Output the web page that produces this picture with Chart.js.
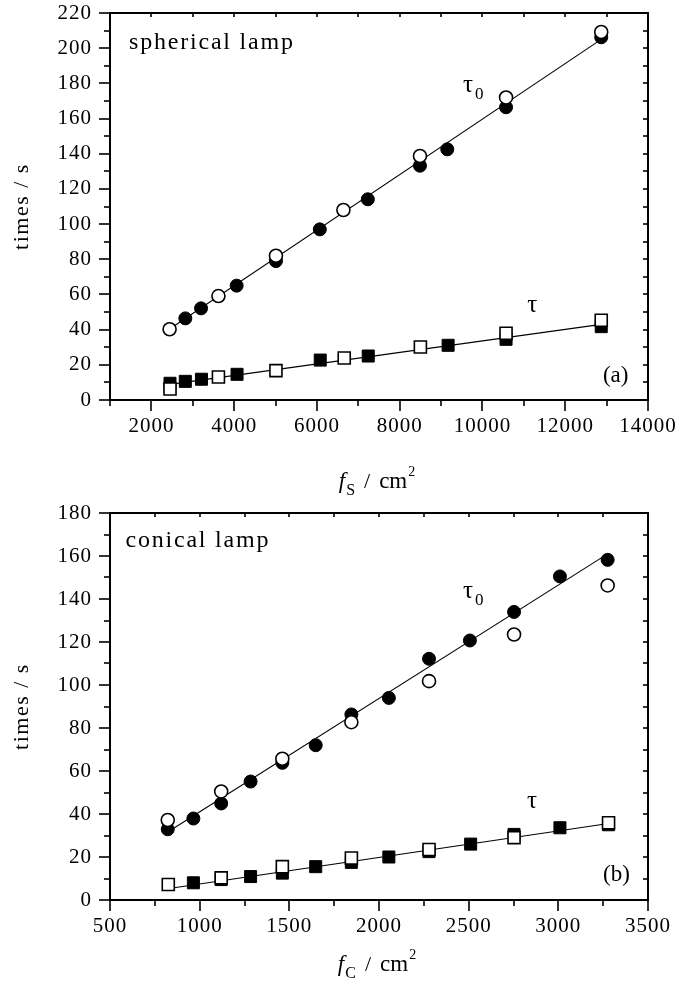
<!DOCTYPE html>
<html>
<head>
<meta charset="utf-8">
<script src="https://cdn.jsdelivr.net/npm/chart.js@4/dist/chart.umd.min.js"></script>
<style>
  html, body { margin: 0; padding: 0; background: #fff; }
  body { width: 680px; height: 987px; position: relative; overflow: hidden; }
  canvas { position: absolute; left: 0; display: block; }
  #c1 { top: 0; }
  #c2 { top: 480px; }
</style>
</head>
<body>
<canvas id="c1" width="680" height="510"></canvas>
<canvas id="c2" width="680" height="507"></canvas>
<script>
// ---------- (a) spherical lamp ----------
const sphTau0FilledX = [2820, 3200, 4060, 5010, 6070, 7230, 8490, 9150, 10570, 12870];
const sphTau0FilledY = [46.4, 52.1, 65.0, 79.0, 97.0, 114.1, 133.2, 142.5, 166.4, 206.2];
const sphTau0OpenX   = [2440, 3620, 5010, 6640, 8490, 10570, 12870];
const sphTau0OpenY   = [40.2, 59.1, 82.0, 108.0, 138.7, 172.0, 209.2];
const sphTauFilledX  = [2450, 2820, 3210, 4070, 6080, 7240, 9170, 10570, 12870];
const sphTauFilledY  = [9.5, 10.6, 11.8, 14.6, 22.7, 25.0, 31.1, 34.5, 41.7];
const sphTauOpenX    = [2450, 3620, 5010, 6660, 8500, 10570, 12870];
const sphTauOpenY    = [6.3, 13.1, 16.7, 23.9, 30.1, 37.9, 45.3];
const sphFitTau0X = [2450, 12870];
const sphFitTau0Y = [40.5, 205.0];
const sphFitTauX  = [2450, 12870];
const sphFitTauY  = [8.9, 43.0];
const sphXTickLabels = [2000, 4000, 6000, 8000, 10000, 12000, 14000];
const sphYTickLabels = [0, 20, 40, 60, 80, 100, 120, 140, 160, 180, 200, 220];
const sphXTicks = { min: 1000, max: 14000, major: 2000, minor: 1000 };
const sphYTicks = { min: 0, max: 220, major: 20, minor: 10 };

// ---------- (b) conical lamp ----------
const conTau0FilledX = [822, 965, 1120, 1284, 1461, 1647, 1846, 2055, 2279, 2507, 2753, 3009, 3275];
const conTau0FilledY = [32.9, 37.9, 44.9, 55.1, 63.8, 72.0, 86.3, 94.0, 112.2, 120.7, 134.0, 150.5, 158.2];
const conTau0OpenX   = [822, 1120, 1461, 1846, 2279, 2753, 3275];
const conTau0OpenY   = [37.2, 50.5, 65.7, 82.7, 101.8, 123.5, 146.3];
const conTauFilledX  = [965, 1120, 1284, 1461, 1647, 1846, 2055, 2279, 2511, 2753, 3009, 3280];
const conTauFilledY  = [8.0, 9.5, 10.9, 12.5, 15.5, 17.5, 20.0, 22.5, 26.0, 30.5, 33.6, 35.0];
const conTauOpenX    = [825, 1120, 1461, 1846, 2279, 2753, 3280];
const conTauOpenY    = [7.2, 10.3, 15.5, 19.5, 23.5, 29.0, 35.9];
const conFitTau0X = [820, 3275];
const conFitTau0Y = [31.5, 161.0];
const conFitTauX  = [820, 3280];
const conFitTauY  = [5.2, 35.6];
const conXTickLabels = [500, 1000, 1500, 2000, 2500, 3000, 3500];
const conYTickLabels = [0, 20, 40, 60, 80, 100, 120, 140, 160, 180];
const conXTicks = { min: 500, max: 3500, major: 500, minor: 250 };
const conYTicks = { min: 0, max: 180, major: 20, minor: 10 };

const SERIF = "'Liberation Serif', 'Times New Roman', serif";

function pts(xs, ys) { return xs.map((x, i) => ({ x: x, y: ys[i] })); }

function markerSet(data, style, filled, order, radius) {
  return {
    type: 'scatter',
    data: data,
    showLine: false,
    order: order,
    pointStyle: style,
    pointRadius: radius,
    pointHoverRadius: radius,
    pointBackgroundColor: filled ? '#000' : '#fff',
    pointBorderColor: '#000',
    pointBorderWidth: filled ? 1 : 1.6
  };
}
function fitSet(data) {
  return {
    type: 'line',
    data: data,
    order: 5,
    borderColor: '#000',
    borderWidth: 1.1,
    pointRadius: 0,
    fill: false,
    tension: 0
  };
}

// draws text made of pieces (with sub/superscripts)
function richText(ctx, pieces, cx, by, align) {
  let total = 0;
  pieces.forEach(p => { ctx.font = p.font; total += ctx.measureText(p.t).width + (p.gap || 0); });
  let x = align === 'left' ? cx : cx - total / 2;
  ctx.textBaseline = 'alphabetic';
  ctx.textAlign = 'left';
  pieces.forEach(p => {
    ctx.font = p.font;
    ctx.fillText(p.t, x, by + (p.dy || 0));
    x += ctx.measureText(p.t).width + (p.gap || 0);
  });
}

const decorPlugin = {
  id: 'decor',
  beforeDraw(chart) { chart.ctx.letterSpacing = '1px'; },
  afterDraw(chart, args, o) {
    const { ctx, chartArea: a } = chart;
    const xs = chart.scales.x, ys = chart.scales.y;
    ctx.save();
    ctx.fillStyle = '#000';
    ctx.strokeStyle = '#000';
    ctx.lineWidth = 1.6;
    const line = (x1, y1, x2, y2) => { ctx.beginPath(); ctx.moveTo(x1, y1); ctx.lineTo(x2, y2); ctx.stroke(); };
    const xt = o.xTicks, yt = o.yTicks;
    for (let v = xt.min; v <= xt.max + 1e-6; v += xt.minor) {
      const px = Math.round(xs.getPixelForValue(v));
      const major = Math.abs(v / xt.major - Math.round(v / xt.major)) < 1e-6;
      line(px, a.bottom, px, a.bottom + (major ? 11 : 6));
      line(px, a.top, px, a.top + 4);
    }
    for (let v = yt.min; v <= yt.max + 1e-6; v += yt.minor) {
      const py = Math.round(ys.getPixelForValue(v));
      const major = Math.abs(v / yt.major - Math.round(v / yt.major)) < 1e-6;
      line(a.left - (major ? 11 : 6), py, a.left, py);
      line(a.right - 5, py, a.right, py);
    }
    ctx.lineWidth = 2;
    ctx.strokeRect(a.left, a.top, a.right - a.left, a.bottom - a.top);

    ctx.letterSpacing = '0px';
    richText(ctx, o.xTitle, (a.left + a.right) / 2 - 2, o.xTitleY);
    ctx.save();
    ctx.translate(28, (a.top + a.bottom) / 2);
    ctx.rotate(-Math.PI / 2);
    ctx.font = '22px ' + SERIF;
    ctx.letterSpacing = '1.5px';
    ctx.textAlign = 'center';
    ctx.textBaseline = 'alphabetic';
    ctx.fillText('times / s', 0, 0);
    ctx.restore();

    o.notes.forEach(n => {
      const px = xs.getPixelForValue(n.x), py = ys.getPixelForValue(n.y);
      ctx.letterSpacing = (n.spacing || 0) + 'px';
      richText(ctx, n.pieces, px, py, 'left');
    });
    ctx.letterSpacing = '0px';
    ctx.restore();
  }
};

function makeChart(id, sets, xT, yT, xLabels, yLabels, padTop, xHeight, opts) {
  return new Chart(document.getElementById(id), {
    data: { datasets: sets },
    options: {
      responsive: false,
      animation: false,
      events: [],
      layout: { padding: { top: padTop, right: 32, left: 0, bottom: 0 } },
      plugins: { legend: { display: false }, tooltip: { enabled: false }, decor: opts },
      scales: {
        x: {
          type: 'linear', position: 'bottom',
          min: xT.min, max: xT.max,
          grid: { display: false, drawTicks: true, tickLength: 14 },
          border: { display: false },
          ticks: { padding: 0, color: '#000', font: { family: SERIF, size: 21 },
                   autoSkip: false, maxRotation: 0, callback: v => String(v) },
          afterBuildTicks: s => { s.ticks = xLabels.map(v => ({ value: v })); },
          afterFit: s => { s.height = xHeight; }
        },
        y: {
          type: 'linear', position: 'left',
          min: yT.min, max: yT.max,
          grid: { display: false, drawTicks: true, tickLength: 18 },
          border: { display: false },
          ticks: { padding: 0, color: '#000', font: { family: SERIF, size: 21 }, autoSkip: false, callback: v => String(v) },
          afterBuildTicks: s => { s.ticks = yLabels.map(v => ({ value: v })); },
          afterFit: s => { s.width = 110; }
        }
      }
    },
    plugins: [decorPlugin]
  });
}

const F = (s) => s + 'px ' + SERIF;
const FI = (s) => 'italic ' + s + 'px ' + SERIF;

makeChart('c1', [
  markerSet(pts(sphTau0OpenX, sphTau0OpenY), 'circle', false, 0, 6.5),
  markerSet(pts(sphTau0FilledX, sphTau0FilledY), 'circle', true, 1, 6.5),
  markerSet(pts(sphTauOpenX, sphTauOpenY), 'rect', false, 0, 8.5),
  markerSet(pts(sphTauFilledX, sphTauFilledY), 'rect', true, 1, 8.5),
  fitSet(pts(sphFitTau0X, sphFitTau0Y)),
  fitSet(pts(sphFitTauX, sphFitTauY))
], sphXTicks, sphYTicks, sphXTickLabels, sphYTickLabels, 13, 110, {
  xTicks: sphXTicks, yTicks: sphYTicks, xTitleY: 488,
  xTitle: [ { t: 'f', font: FI(23), gap: 1 }, { t: 'S', font: F(16), dy: 7, gap: 9 }, { t: '/', font: F(22), gap: 9 }, { t: 'cm', font: F(23), gap: 1 }, { t: '2', font: F(14), dy: -12 } ],
  notes: [
    { x: 1459, y: 199.5, spacing: 1.8, pieces: [ { t: 'spherical lamp', font: F(24) } ] },
    { x: 9530, y: 175, pieces: [ { t: 'τ', font: F(25), gap: 2 }, { t: '0', font: F(17), dy: 7 } ] },
    { x: 11080, y: 50, pieces: [ { t: 'τ', font: F(25) } ] },
    { x: 12910, y: 10, pieces: [ { t: '(a)', font: F(23) } ] }
  ]
});

makeChart('c2', [
  markerSet(pts(conTau0OpenX, conTau0OpenY), 'circle', false, 0, 6.5),
  markerSet(pts(conTau0FilledX, conTau0FilledY), 'circle', true, 1, 6.5),
  markerSet(pts(conTauOpenX, conTauOpenY), 'rect', false, 0, 8.5),
  markerSet(pts(conTauFilledX, conTauFilledY), 'rect', true, 1, 8.5),
  fitSet(pts(conFitTau0X, conFitTau0Y)),
  fitSet(pts(conFitTauX, conFitTauY))
], conXTicks, conYTicks, conXTickLabels, conYTickLabels, 33, 87, {
  xTicks: conXTicks, yTicks: conYTicks, xTitleY: 491,
  xTitle: [ { t: 'f', font: FI(23), gap: 1 }, { t: 'C', font: F(16), dy: 7, gap: 9 }, { t: '/', font: F(22), gap: 9 }, { t: 'cm', font: F(23), gap: 1 }, { t: '2', font: F(14), dy: -12 } ],
  notes: [
    { x: 586, y: 164, spacing: 1.8, pieces: [ { t: 'conical lamp', font: F(24) } ] },
    { x: 2468, y: 140.5, pieces: [ { t: 'τ', font: F(25), gap: 2 }, { t: '0', font: F(17), dy: 7 } ] },
    { x: 2825, y: 42.6, pieces: [ { t: 'τ', font: F(25) } ] },
    { x: 3249, y: 8.8, pieces: [ { t: '(b)', font: F(23) } ] }
  ]
});
</script>
</body>
</html>
